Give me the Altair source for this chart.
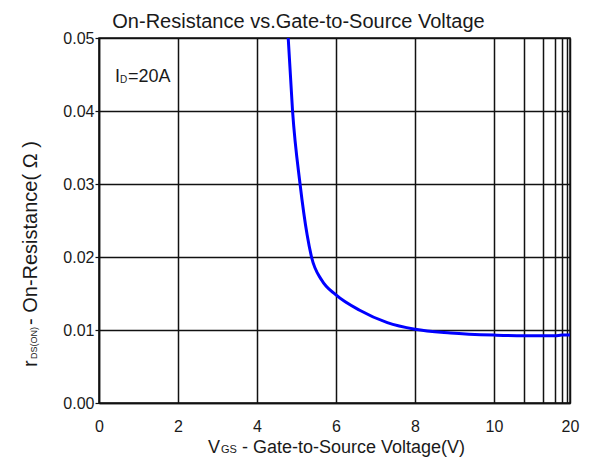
import altair as alt
import pandas as pd

# ---- data ----
vgs = [4.79, 4.90, 5.09, 5.27, 5.38, 5.64, 6.0, 6.6, 7.3, 8.0, 8.9, 10.0, 12.0, 14.0, 16.0, 18.0, 20.0]
rds = [0.050, 0.040, 0.030, 0.0230, 0.0200, 0.0168, 0.0148, 0.0127, 0.0110, 0.0101, 0.0096, 0.0093,
       0.0092, 0.0092, 0.0092, 0.0093, 0.0093]

x_grid = [0, 2, 4, 6, 8, 10, 12, 14, 16, 18, 19, 20]
x_labels_shown = [0, 2, 4, 6, 8, 10, 20]
y_ticks = [0.00, 0.01, 0.02, 0.03, 0.04, 0.05]

# piecewise x scale (linear to 10, compressed 10..20)
x_domain = [0, 10, 12, 14, 16, 18, 19, 20]
x_range = [0, 395, 425, 444, 456, 463, 468, 471]

title_text = "On-Resistance vs.Gate-to-Source Voltage"
FONT = "Liberation Sans"
TXT = "#1a1a1a"

df = pd.DataFrame({"vgs": vgs, "rds": rds})

W, H = 471, 365

label_expr = " || ".join(f"datum.value == {v}" for v in x_labels_shown)

line = alt.Chart(df).mark_line(color="#0000ff", strokeWidth=3, interpolate="monotone", clip=True).encode(
    x=alt.X("vgs:Q",
            scale=alt.Scale(domain=x_domain, range=x_range, nice=False, zero=False),
            axis=alt.Axis(values=x_grid, title=None, ticks=False, labelPadding=15,
                          labelExpr=f"({label_expr}) ? datum.label : ''",
                          format="d", labelFontSize=16, labelFont=FONT, labelColor=TXT,
                          grid=True, gridColor="#111", gridWidth=1.5, gridOpacity=1,
                          domainColor="#111", domainWidth=1.5, labelFlush=False, labelOverlap=False)),
    y=alt.Y("rds:Q",
            scale=alt.Scale(domain=[0, 0.05], nice=False, zero=False),
            axis=alt.Axis(values=y_ticks, title=None, format=".2f", tickSize=4, tickColor="#111",
                          tickWidth=1.2, labelPadding=1, labelFontSize=16, labelFont=FONT,
                          labelColor=TXT, grid=True, gridColor="#111", gridWidth=1.5, gridOpacity=1,
                          domainColor="#111", domainWidth=1.5, labelFlush=False, labelOverlap=False)),
)


def txt(s, x, y, size, angle=0, align="left"):
    return alt.Chart(pd.DataFrame({"t": [s]})).mark_text(
        font=FONT, fontSize=size, color=TXT, align=align, baseline="alphabetic", angle=angle
    ).encode(text="t:N", x=alt.value(x), y=alt.value(y))


# annotation I_D = 20A
ann = [txt("I", 16, 44, 18), txt("D", 21, 45, 10), txt("=20A", 29, 44, 18)]

# x axis title V_GS - Gate-to-Source Voltage(V)
xt = [txt("V", 109, 415, 18), txt("GS", 122, 415, 11), txt("- Gate-to-Source Voltage(V)", 143, 415, 18)]

# y axis title r_DS(ON) - On-Resistance( Ω )
yt = [txt("r", -62, 329, 20, angle=270), txt("DS(ON)", -62, 321, 9, angle=270),
      txt("- On-Resistance( Ω )", -62, 287, 20, angle=270)]

chart = alt.layer(line, *ann, *xt, *yt).properties(
    width=W, height=H,
    title=alt.TitleParams(title_text, font=FONT, fontSize=20, fontWeight="normal", color=TXT,
                          anchor="middle", frame="group", dx=-36, offset=-2),
    autosize=alt.AutoSizeParams(type="none"),
    padding={"left": 91, "top": 30, "right": 12, "bottom": 55},
).configure_view(stroke="#111", strokeWidth=1.5)

chart.save("out.html", embed_options={"renderer": "svg", "actions": False})
